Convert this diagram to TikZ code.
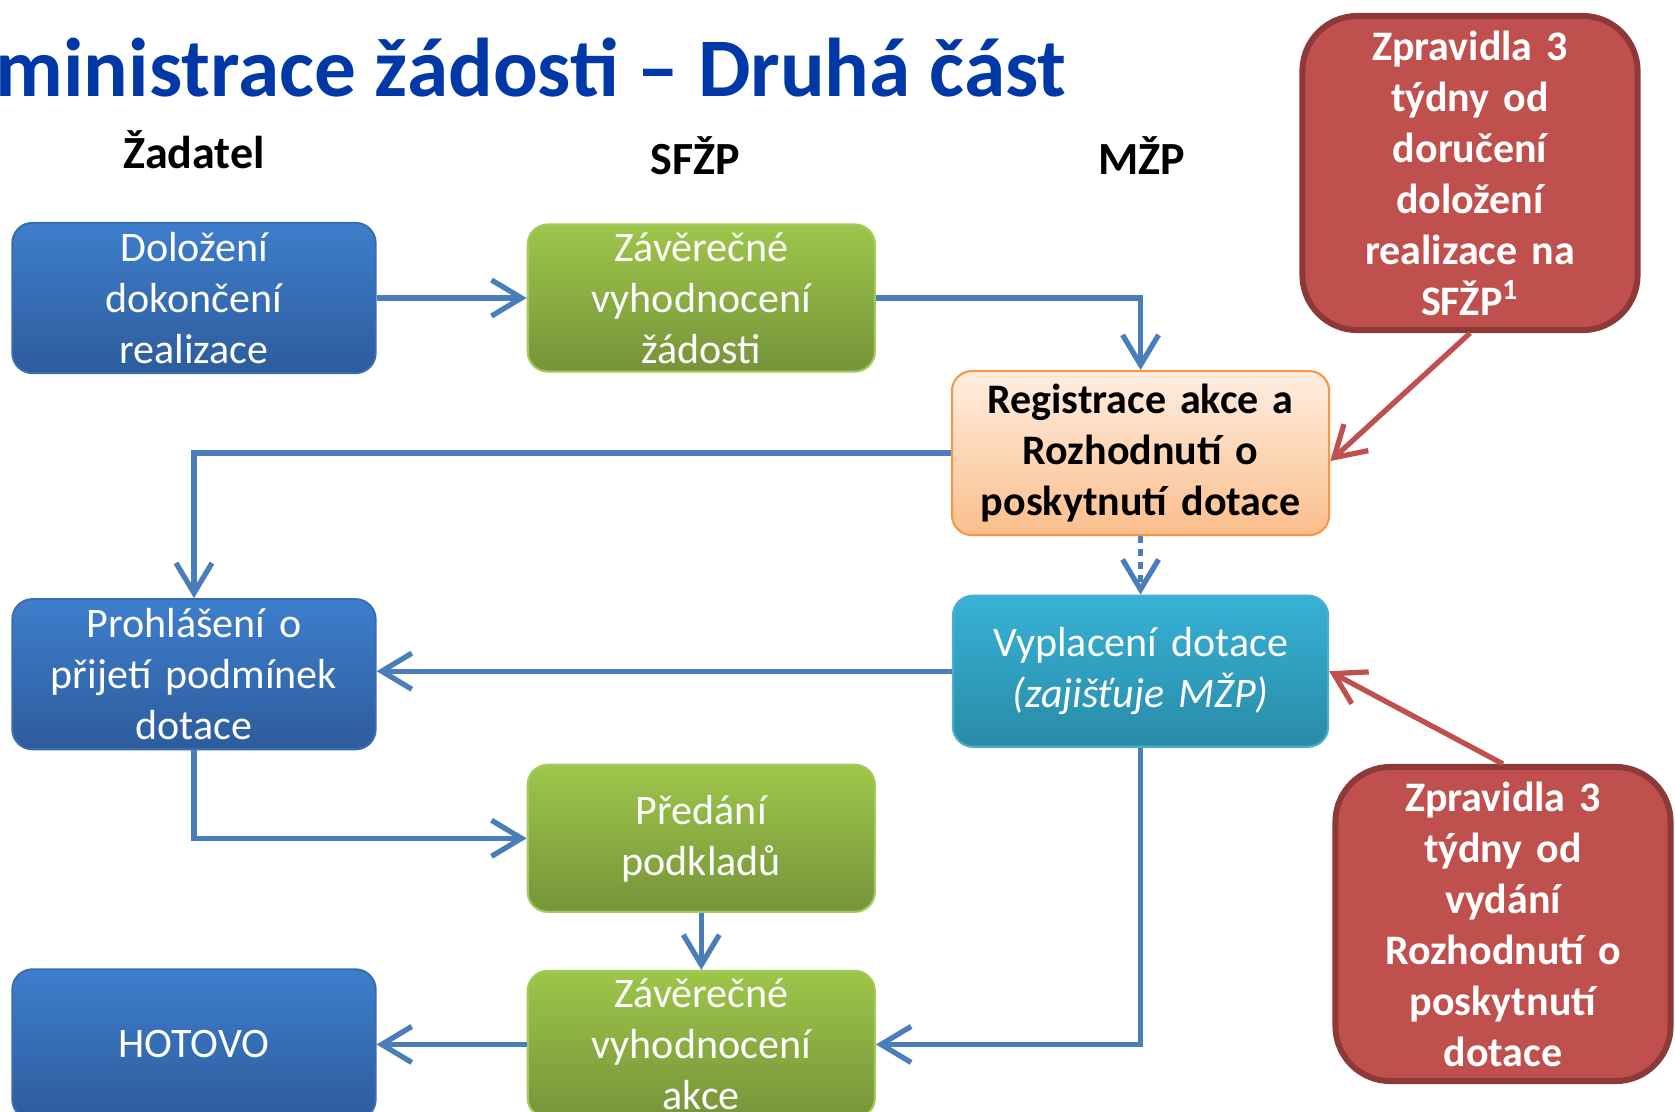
\documentclass[tikz,border=0pt]{standalone}
\usepackage{fontspec}
\setmainfont{Carlito}
\usetikzlibrary{arrows.meta, positioning}

\definecolor{titleblue}{RGB}{0,56,168}
\definecolor{flowblue}{RGB}{74,126,187}
\definecolor{blueA}{RGB}{62,126,204}
\definecolor{blueB}{RGB}{45,92,156}
\definecolor{blueline}{RGB}{58,108,178}
\definecolor{greenA}{RGB}{157,198,74}
\definecolor{greenB}{RGB}{118,148,58}
\definecolor{greenline}{RGB}{163,202,92}
\definecolor{orangeA}{RGB}{254,238,226}
\definecolor{orangeB}{RGB}{251,190,140}
\definecolor{orangeline}{RGB}{247,150,70}
\definecolor{tealA}{RGB}{55,178,214}
\definecolor{tealB}{RGB}{41,139,167}
\definecolor{tealline}{RGB}{78,174,200}
\definecolor{notefill}{RGB}{192,80,77}
\definecolor{noteline}{RGB}{140,57,55}

\newcommand{\boxfont}{\fontsize{11.95pt}{14.5pt}\selectfont}
\newcommand{\headfont}{\fontsize{13.1pt}{15pt}\selectfont\bfseries}
\newcommand{\titlefont}{\fontsize{23.7pt}{28pt}\selectfont\bfseries}

\tikzset{
    box/.style = {rounded corners=0.2cm, align=center, inner sep=0pt,
                  text=white, font=\boxfont, line width=0.6pt},
    bluebox/.style = {box, draw=blueline, top color=blueA, bottom color=blueB,
                      text width=3.63cm, minimum height=1.5cm},
    greenbox/.style = {box, draw=greenline, top color=greenA, bottom color=greenB,
                       text width=3.47cm, minimum height=1.47cm},
    notebox/.style = {rounded corners=0.55cm, align=center, inner sep=0pt,
                      draw=noteline, line width=1.7pt, fill=notefill, text=white,
                      font=\boxfont\bfseries, text width=3.35cm, minimum height=3.14cm},
    head/.style = {anchor=base, inner sep=0pt, font=\headfont},
    flow/.style = {flowblue, line width=1.5pt,
                   -{Straight Barb[length=3mm, width=3.6mm]}},
    noteflow/.style = {notefill, line width=1.5pt,
                       -{Straight Barb[length=3mm, width=3.6mm]}}
}

\begin{document}
\begin{tikzpicture} [x=0.01cm, y=-0.01cm, on grid]
    \useasboundingbox (0,0) rectangle (1675,1111);

    \node (title) [anchor=base west, inner sep=0pt, text=titleblue, font=\titlefont]
        at (-5,96) {ministrace žádosti – Druhá část};

    \node (h1) [head] at (194,168) {Žadatel};
    \node (h2) [head] at (695,174) {SFŽP};
    \node (h3) [head] at (1142,174) {MŽP};

    \node (dol) [bluebox] at (194,298) {Doložení\\dokončení\\realizace};
    \node (zz) [greenbox, right = 5.07cm of dol] {Závěrečné\\vyhodnocení\\žádosti};
    \node (reg) [box, draw=orangeline, top color=orangeA, bottom color=orangeB,
                 text=black, font=\boxfont\bfseries, text width=3.77cm, minimum height=1.64cm,
                 below right = 1.55cm and 4.39cm of zz]
        {Registrace akce a\\Rozhodnutí o\\poskytnutí dotace};
    \node (proh) [bluebox, below = 3.76cm of dol] {Prohlášení o\\přijetí podmínek\\dotace};
    \node (vyp) [box, draw=tealline, top color=tealA, bottom color=tealB,
                 text width=3.75cm, minimum height=1.51cm, below = 2.18cm of reg]
        {Vyplacení dotace\\\textit{(zajišťuje MŽP)}};
    \node (pred) [greenbox, below = 5.4cm of zz] {Předání\\podkladů};
    \node (za) [greenbox, below = 2.06cm of pred] {Závěrečné\\vyhodnocení\\akce};
    \node (hot) [bluebox, below = 3.7cm of proh] {HOTOVO};

    \node (n1) [notebox] at (1470,173) {Zpravidla 3\\týdny od\\doručení\\doložení\\realizace na\\SFŽP\textsuperscript{1}};
    \node (n2) [notebox] at (1503,924) {Zpravidla 3\\týdny od\\vydání\\Rozhodnutí o\\poskytnutí\\dotace};

    \path [flow] (dol) edge (zz);
    \draw [flow] (zz) -| (reg);
    \draw [flow] (reg) -| (proh);
    \path [flow, dash pattern=on 0.07cm off 0.06cm] (reg) edge (vyp);
    \draw [flow] (vyp.west) -- (vyp.west -| proh.east);
    \draw [flow] (proh) |- (pred);
    \path [flow] (pred) edge (za);
    \draw [flow] (vyp) |- (za);
    \path [flow] (za) edge (hot);

    \draw [noteflow] (n1.south) -- ([yshift=-0.08cm]reg.east);
    \draw [noteflow] (n2.north) -- (vyp.east);
\end{tikzpicture}
\end{document}
